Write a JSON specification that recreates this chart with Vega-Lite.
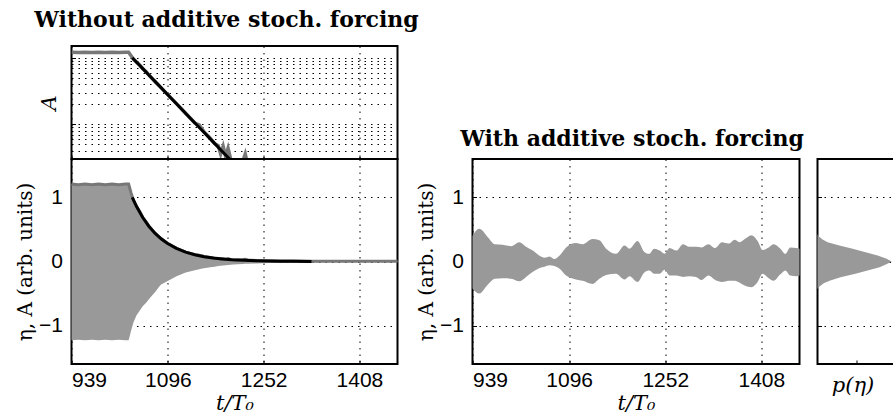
{
  "$schema": "https://vega.github.io/schema/vega-lite/v6.json",
  "background": "white",
  "padding": {"left": 14.5, "top": 8, "right": 0, "bottom": 0},
  "spacing": 0,
  "bounds": "flush",
  "datasets": {
    "nofs": [
      {"t": 939, "lo": -1.23, "hi": 1.21},
      {"t": 950, "lo": -1.22, "hi": 1.2},
      {"t": 961, "lo": -1.23, "hi": 1.21},
      {"t": 972, "lo": -1.22, "hi": 1.2},
      {"t": 983, "lo": -1.23, "hi": 1.21},
      {"t": 994, "lo": -1.22, "hi": 1.2},
      {"t": 1005, "lo": -1.23, "hi": 1.21},
      {"t": 1016, "lo": -1.22, "hi": 1.2},
      {"t": 1027, "lo": -1.23, "hi": 1.21},
      {"t": 1032, "lo": -1.23, "hi": 1.21},
      {"t": 1034, "lo": -1.16, "hi": 1.14},
      {"t": 1036, "lo": -1.08, "hi": 1.07},
      {"t": 1040, "lo": -0.95, "hi": 0.95},
      {"t": 1045, "lo": -0.84, "hi": 0.86},
      {"t": 1050, "lo": -0.77, "hi": 0.78},
      {"t": 1055, "lo": -0.7, "hi": 0.69},
      {"t": 1061, "lo": -0.64, "hi": 0.61},
      {"t": 1065, "lo": -0.59, "hi": 0.55},
      {"t": 1072, "lo": -0.51, "hi": 0.47},
      {"t": 1075, "lo": -0.48, "hi": 0.44},
      {"t": 1083, "lo": -0.38, "hi": 0.37},
      {"t": 1085, "lo": -0.36, "hi": 0.355},
      {"t": 1095, "lo": -0.31, "hi": 0.285},
      {"t": 1110, "lo": -0.23, "hi": 0.205},
      {"t": 1125, "lo": -0.17, "hi": 0.147},
      {"t": 1140, "lo": -0.135, "hi": 0.105},
      {"t": 1147, "lo": -0.12, "hi": 0.098},
      {"t": 1152, "lo": -0.11, "hi": 0.085},
      {"t": 1155, "lo": -0.105, "hi": 0.077},
      {"t": 1165, "lo": -0.09, "hi": 0.062},
      {"t": 1172, "lo": -0.08, "hi": 0.052},
      {"t": 1178, "lo": -0.07, "hi": 0.048},
      {"t": 1182, "lo": -0.066, "hi": 0.036},
      {"t": 1186, "lo": -0.062, "hi": 0.047},
      {"t": 1190, "lo": -0.058, "hi": 0.033},
      {"t": 1194, "lo": -0.055, "hi": 0.044},
      {"t": 1198, "lo": -0.05, "hi": 0.031},
      {"t": 1203, "lo": -0.047, "hi": 0.026},
      {"t": 1210, "lo": -0.042, "hi": 0.022},
      {"t": 1218, "lo": -0.038, "hi": 0.028},
      {"t": 1222, "lo": -0.036, "hi": 0.036},
      {"t": 1226, "lo": -0.034, "hi": 0.025},
      {"t": 1240, "lo": -0.03, "hi": 0.016},
      {"t": 1260, "lo": -0.025, "hi": 0.011},
      {"t": 1280, "lo": -0.02, "hi": 0.008},
      {"t": 1300, "lo": -0.015, "hi": 0.006},
      {"t": 1330, "lo": -0.011, "hi": 0.004},
      {"t": 1370, "lo": -0.008, "hi": 0.003},
      {"t": 1420, "lo": -0.006, "hi": 0.002},
      {"t": 1470, "lo": -0.005, "hi": 0.002}
    ],
    "fit": [
      {"t": 1038, "A": 1.0},
      {"t": 1045, "A": 0.857},
      {"t": 1055, "A": 0.687},
      {"t": 1065, "A": 0.551},
      {"t": 1075, "A": 0.442},
      {"t": 1085, "A": 0.354},
      {"t": 1095, "A": 0.284},
      {"t": 1110, "A": 0.204},
      {"t": 1125, "A": 0.146},
      {"t": 1140, "A": 0.105},
      {"t": 1155, "A": 0.0756},
      {"t": 1170, "A": 0.0543},
      {"t": 1185, "A": 0.039},
      {"t": 1200, "A": 0.028},
      {"t": 1220, "A": 0.018},
      {"t": 1240, "A": 0.0116},
      {"t": 1260, "A": 0.00744},
      {"t": 1280, "A": 0.00479},
      {"t": 1300, "A": 0.00308},
      {"t": 1330, "A": 0.00159}
    ],
    "mid": [
      {"t": 939, "lo": -0.42, "hi": 0.4},
      {"t": 950, "lo": -0.5, "hi": 0.51},
      {"t": 964, "lo": -0.36, "hi": 0.38},
      {"t": 975, "lo": -0.27, "hi": 0.27},
      {"t": 988, "lo": -0.26, "hi": 0.26},
      {"t": 1002, "lo": -0.27, "hi": 0.24},
      {"t": 1015, "lo": -0.31, "hi": 0.3},
      {"t": 1026, "lo": -0.24, "hi": 0.23},
      {"t": 1037, "lo": -0.16, "hi": 0.17},
      {"t": 1048, "lo": -0.1, "hi": 0.09},
      {"t": 1056, "lo": -0.08, "hi": 0.06},
      {"t": 1064, "lo": -0.06, "hi": 0.08},
      {"t": 1072, "lo": -0.07, "hi": 0.04},
      {"t": 1080, "lo": -0.11, "hi": 0.09},
      {"t": 1091, "lo": -0.22, "hi": 0.22},
      {"t": 1107, "lo": -0.28, "hi": 0.29},
      {"t": 1118, "lo": -0.3, "hi": 0.27},
      {"t": 1134, "lo": -0.35, "hi": 0.35},
      {"t": 1145, "lo": -0.27, "hi": 0.33},
      {"t": 1156, "lo": -0.21, "hi": 0.2},
      {"t": 1172, "lo": -0.19, "hi": 0.12},
      {"t": 1186, "lo": -0.28, "hi": 0.25},
      {"t": 1194, "lo": -0.23, "hi": 0.2},
      {"t": 1207, "lo": -0.32, "hi": 0.32},
      {"t": 1218, "lo": -0.17, "hi": 0.15},
      {"t": 1226, "lo": -0.14, "hi": 0.12},
      {"t": 1234, "lo": -0.19, "hi": 0.2},
      {"t": 1243, "lo": -0.19, "hi": 0.17},
      {"t": 1251, "lo": -0.13, "hi": 0.12},
      {"t": 1259, "lo": -0.22, "hi": 0.21},
      {"t": 1270, "lo": -0.22, "hi": 0.17},
      {"t": 1281, "lo": -0.24, "hi": 0.27},
      {"t": 1291, "lo": -0.23, "hi": 0.23},
      {"t": 1302, "lo": -0.24, "hi": 0.23},
      {"t": 1311, "lo": -0.29, "hi": 0.22},
      {"t": 1322, "lo": -0.22, "hi": 0.27},
      {"t": 1333, "lo": -0.29, "hi": 0.21},
      {"t": 1344, "lo": -0.32, "hi": 0.3},
      {"t": 1355, "lo": -0.3, "hi": 0.28},
      {"t": 1365, "lo": -0.3, "hi": 0.34},
      {"t": 1373, "lo": -0.33, "hi": 0.3},
      {"t": 1381, "lo": -0.375, "hi": 0.35},
      {"t": 1392, "lo": -0.4, "hi": 0.41},
      {"t": 1402, "lo": -0.32, "hi": 0.32},
      {"t": 1410, "lo": -0.19, "hi": 0.18},
      {"t": 1420, "lo": -0.26, "hi": 0.22},
      {"t": 1428, "lo": -0.3, "hi": 0.27},
      {"t": 1439, "lo": -0.2, "hi": 0.2},
      {"t": 1447, "lo": -0.14, "hi": 0.12},
      {"t": 1455, "lo": -0.22, "hi": 0.22},
      {"t": 1465, "lo": -0.23, "hi": 0.21},
      {"t": 1470, "lo": -0.22, "hi": 0.2}
    ],
    "pdf": [
      {"eta": 0.43, "p": 0},
      {"eta": 0.4, "p": 0.02},
      {"eta": 0.38, "p": 0.06},
      {"eta": 0.34, "p": 0.14},
      {"eta": 0.3, "p": 0.26},
      {"eta": 0.25, "p": 0.56},
      {"eta": 0.2, "p": 0.9},
      {"eta": 0.146, "p": 1.23},
      {"eta": 0.094, "p": 1.54},
      {"eta": 0.042, "p": 1.77},
      {"eta": 0, "p": 1.9},
      {"eta": -0.036, "p": 1.79},
      {"eta": -0.089, "p": 1.59},
      {"eta": -0.14, "p": 1.28},
      {"eta": -0.19, "p": 0.97},
      {"eta": -0.245, "p": 0.59},
      {"eta": -0.3, "p": 0.31},
      {"eta": -0.34, "p": 0.16},
      {"eta": -0.375, "p": 0.085},
      {"eta": -0.4, "p": 0.03},
      {"eta": -0.43, "p": 0}
    ]
  },
  "vconcat": [
    {
      "width": 326,
      "height": 113,
      "title": {"text": "Without additive stoch. forcing", "baseline": "alphabetic", "offset": -3, "dx": -8, "anchor": "middle"},
      "layer": [
        {
          "data": {"name": "nofs"},
          "mark": {"type": "line", "color": "#777777", "strokeWidth": 3.5, "clip": true},
          "encoding": {
            "x": {"field": "t", "type": "quantitative", "scale": {"domain": [939, 1470], "nice": false, "zero": false},
                  "axis": {"values": [939, 1096, 1252, 1408], "labels": false, "title": null}},
            "y": {"field": "hi", "type": "quantitative",
                  "scale": {"type": "log", "domain": [0.0303, 1.5], "nice": false},
                  "axis": {"values": [0.04, 0.05, 0.06, 0.07, 0.08, 0.09, 0.1, 0.2, 0.3, 0.4, 0.5, 0.6, 0.7, 0.8, 0.9, 1],
                           "labels": false, "title": "A", "titleFontStyle": "italic", "titlePadding": 12,
                           "tickOpacity": {"condition": {"test": "datum.value == 1 || datum.value == 0.1", "value": 1}, "value": 0}}}
          }
        },
        {
          "data": {"name": "fit"},
          "mark": {"type": "line", "color": "#000000", "strokeWidth": 3, "clip": true},
          "encoding": {
            "x": {"field": "t", "type": "quantitative"},
            "y": {"field": "A", "type": "quantitative"}
          }
        }
      ]
    },
    {
      "hconcat": [
        {
          "width": 326,
          "height": 205,
          "layer": [
            {
              "data": {"name": "nofs"},
              "mark": {"type": "area", "color": "#999999", "opacity": 1},
              "encoding": {
                "x": {"field": "t", "type": "quantitative", "scale": {"domain": [939, 1470], "nice": false, "zero": false},
                      "axis": {"values": [939, 1096, 1252, 1408], "format": "d", "title": "t/T₀", "titleFontStyle": "italic", "labelPadding": 9, "titlePadding": 2}},
                "y": {"field": "lo", "type": "quantitative", "scale": {"domain": [-1.6, 1.6], "nice": false},
                      "axis": {"values": [-1, 0, 1], "format": "d", "title": "η, A (arb. units)", "titleFontSize": 20, "labelPadding": 13, "titlePadding": 3}},
                "y2": {"field": "hi"}
              }
            },
            {
              "data": {"name": "nofs"},
              "mark": {"type": "line", "color": "#777777", "strokeWidth": 3},
              "encoding": {
                "x": {"field": "t", "type": "quantitative"},
                "y": {"field": "hi", "type": "quantitative"}
              }
            },
            {
              "data": {"name": "fit"},
              "mark": {"type": "line", "color": "#000000", "strokeWidth": 3},
              "encoding": {
                "x": {"field": "t", "type": "quantitative"},
                "y": {"field": "A", "type": "quantitative"}
              }
            }
          ]
        },
        {
          "hconcat": [
            {
              "width": 327,
              "height": 205,
              "title": {"text": "With additive stoch. forcing", "baseline": "alphabetic", "offset": -9, "dx": -4, "anchor": "middle"},
              "data": {"name": "mid"},
              "mark": {"type": "area", "color": "#999999", "opacity": 1, "interpolate": "monotone"},
              "encoding": {
                "x": {"field": "t", "type": "quantitative", "scale": {"domain": [939, 1470], "nice": false, "zero": false},
                      "axis": {"values": [939, 1096, 1252, 1408], "format": "d", "title": "t/T₀", "titleFontStyle": "italic", "labelPadding": 9, "titlePadding": 2}},
                "y": {"field": "lo", "type": "quantitative", "scale": {"domain": [-1.6, 1.6], "nice": false},
                      "axis": {"values": [-1, 0, 1], "format": "d", "title": "η, A (arb. units)", "titleFontSize": 20, "labelPadding": 13, "titlePadding": 3}},
                "y2": {"field": "hi"}
              }
            },
            {
              "width": 100,
              "height": 205,
              "data": {"name": "pdf"},
              "mark": {"type": "area", "orient": "horizontal", "color": "#999999", "opacity": 1},
              "encoding": {
                "x": {"field": "p", "type": "quantitative", "scale": {"domain": [0, 2.56], "nice": false},
                      "axis": {"values": [1], "labels": false, "grid": false, "title": "p(η)", "titleFontStyle": "italic", "titleX": 35, "titlePadding": 10}},
                "y": {"field": "eta", "type": "quantitative", "scale": {"domain": [-1.6, 1.6], "nice": false},
                      "axis": {"values": [-1, 0, 1], "labels": false, "title": null}}
              }
            }
          ],
          "spacing": 18,
          "bounds": "flush"
        }
      ],
      "spacing": 75,
      "bounds": "flush"
    }
  ],
  "config": {
    "view": {"stroke": "#000000", "strokeWidth": 2},
    "axis": {
      "domain": false,
      "grid": true,
      "gridColor": "#000000",
      "gridDash": [1.5, 5],
      "gridWidth": 1,
      "ticks": true,
      "tickColor": "#000000",
      "tickSize": -4,
      "tickWidth": 1,
      "labelFont": "Liberation Sans",
      "labelFontSize": 21,
      "labelColor": "#000000",
      "titleFont": "DejaVu Serif",
      "titleFontSize": 21,
      "titleFontWeight": "normal",
      "titleColor": "#000000"
    },
    "title": {"font": "DejaVu Serif", "fontSize": 22, "fontWeight": "bold", "color": "#000000"}
  }
}
